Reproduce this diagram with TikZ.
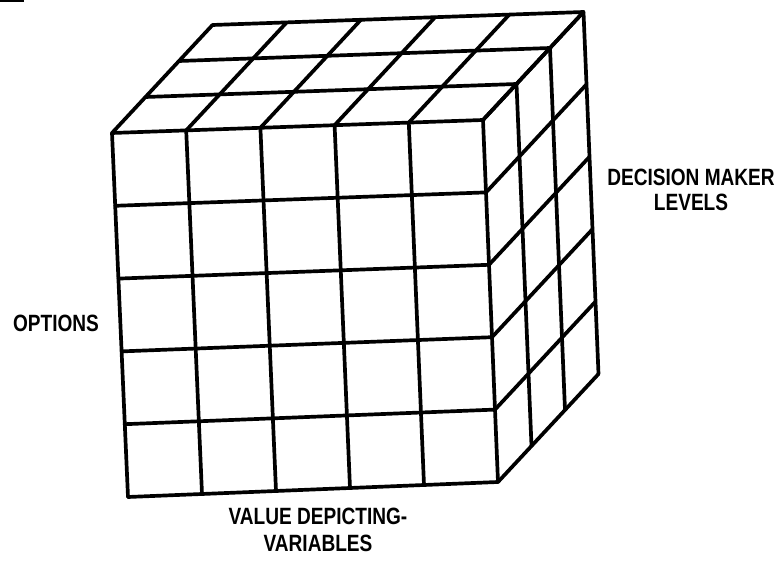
\documentclass[tikz,border=0pt]{standalone}
\usepackage{fontspec}
\newfontfamily\labfont[FakeStretch=0.81]{Liberation Sans}
\usetikzlibrary{calc}
\tikzset{
  grid line/.style={line width=2.1pt, line join=round, line cap=round, black},
  lab/.style={font=\labfont\bfseries\fontsize{13.4}{14}\selectfont, align=center, inner sep=0pt}
}
\begin{document}
\begin{tikzpicture}[x=0.02cm, y=-0.02cm]
\useasboundingbox (0,0) rectangle (778,563);
% front face corners
\coordinate (A) at (112,133);
\coordinate (B) at (483,120);
\coordinate (C) at (128,497);
\coordinate (E) at (498,482);
\coordinate (D) at (100.5,-108);
% front face grid
\foreach \j in {0,...,5}{
  \draw[grid line] ($(A)!{\j/5}!(C)$) -- ($(B)!{\j/5}!(E)$);
  \draw[grid line] ($(A)!{\j/5}!(B)$) -- ($(C)!{\j/5}!(E)$);
}
% top and right faces
\foreach \k in {1,2,3}{
  \draw[grid line] ($(A)+{\k/3}*(D)$) -- ($(B)+{\k/3}*(D)$);
  \draw[grid line] ($(B)+{\k/3}*(D)$) -- ($(E)+{\k/3}*(D)$);
}
\foreach \i in {0,...,5}{
  \draw[grid line] ($(A)!{\i/5}!(B)$) -- ($($(A)!{\i/5}!(B)$)+(D)$);
  \draw[grid line] ($(B)!{\i/5}!(E)$) -- ($($(B)!{\i/5}!(E)$)+(D)$);
}
% scan mark
\draw[line width=1pt] (0,1) -- (24,1);
% labels
\node[lab] (dm) at (691,190) {DECISION MAKER\\[0pt]LEVELS};
\node[lab] (op) at (56,323) {OPTIONS};
\node[lab] (vd) at (318,530) {VALUE DEPICTING-\\[1pt]VARIABLES};
\end{tikzpicture}
\end{document}
